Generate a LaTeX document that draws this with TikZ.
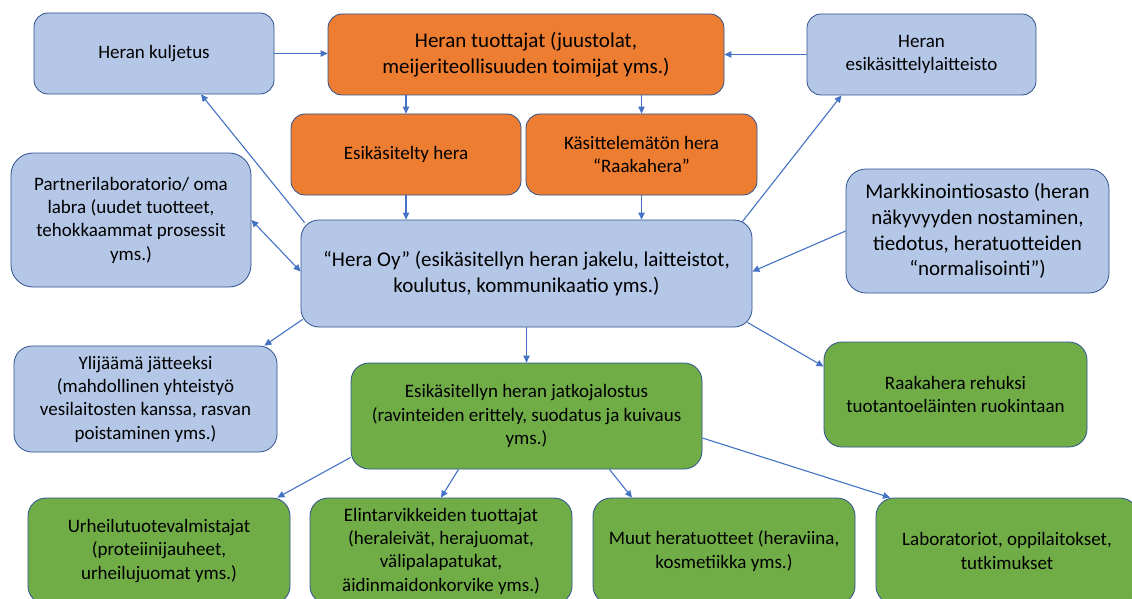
\documentclass[tikz,border=0pt]{standalone}
\usepackage{fontspec}
\setmainfont{Carlito}
\usetikzlibrary{arrows.meta}
\definecolor{heraBlue}{RGB}{180, 199, 231}
\definecolor{heraOrange}{RGB}{237, 125, 49}
\definecolor{heraGreen}{RGB}{112, 173, 71}
\definecolor{heraEdge}{RGB}{47, 82, 143}
\definecolor{heraArrow}{RGB}{68, 114, 196}

\begin{document}
\begin{tikzpicture}[x=1pt, y=-1pt,
    box/.style={draw=heraEdge, line width=0.8pt, rounded corners=14pt, align=center,
      inner sep=2pt, font=\fontsize{19}{23.3}\selectfont},
    boxsize/.style 2 args={minimum width=#1pt, minimum height=#2pt},
    bluebox/.style={box, fill=heraBlue},
    orangebox/.style={box, fill=heraOrange},
    greenbox/.style={box, fill=heraGreen},
    bigtext/.style={font=\fontsize{21}{25.6}\selectfont},
    tip/.tip={Triangle[length=7pt, width=6.5pt]},
    flow/.style={draw=heraArrow, line width=1.1pt, -tip}]
  \useasboundingbox[fill=white] (0,0) rectangle (1132,599);
  % top row
  \node[bluebox, boxsize={240}{81}] (kuljetus) at (154,53.5) {Heran kuljetus};
  \node[orangebox, bigtext, boxsize={396}{81}] (tuottajat) at (526,54.5)
    {Heran tuottajat (juustolat,\\meijeriteollisuuden toimijat yms.)};
  \node[bluebox, boxsize={229}{81}] (laitteisto) at (921.5,54.5) {Heran\\esikäsittelylaitteisto};
  \node[orangebox, boxsize={230}{81}] (esik) at (406,154.5) {Esikäsitelty hera};
  \node[orangebox, boxsize={231}{81}] (raaka) at (641.5,154.5) {Käsittelemätön hera\\“Raakahera”};
  % middle
  \node[bluebox, boxsize={240}{134}, rounded corners=22pt] (partneri) at (131,220)
    {Partnerilaboratorio/ oma\\labra (uudet tuotteet,\\tehokkaammat prosessit\\yms.)};
  \node[bluebox, bigtext, boxsize={451}{107}, rounded corners=18pt] (heraoy) at (526.5,273.5)
    {“Hera Oy” (esikäsitellyn heran jakelu, laitteistot,\\koulutus, kommunikaatio yms.)};
  \node[bluebox, bigtext, boxsize={263}{124}, rounded corners=20pt] (markkinointi) at (977.5,231)
    {Markkinointiosasto (heran\\näkyvyyden nostaminen,\\tiedotus, heratuotteiden\\“normalisointi”)};
  \node[bluebox, boxsize={263}{106}, rounded corners=18pt] (ylijaama) at (145.5,399)
    {Ylijäämä jätteeksi\\(mahdollinen yhteistyö\\vesilaitosten kanssa, rasvan\\poistaminen yms.)};
  \node[greenbox, boxsize={351}{106}, rounded corners=18pt] (jatko) at (526.5,416)
    {Esikäsitellyn heran jatkojalostus\\(ravinteiden erittely, suodatus ja kuivaus\\yms.)};
  \node[greenbox, boxsize={263}{105}, rounded corners=18pt] (rehu) at (955.5,394.5)
    {Raakahera rehuksi\\tuotantoeläinten ruokintaan};
  % bottom row
  \node[greenbox, boxsize={262}{106}, rounded corners=18pt] (urheilu) at (159,551)
    {Urheilutuotevalmistajat\\(proteiinijauheet,\\urheilujuomat yms.)};
  \node[greenbox, boxsize={262}{106}, rounded corners=18pt] (elintarvike) at (441,551)
    {Elintarvikkeiden tuottajat\\(heraleivät, herajuomat,\\välipalapatukat,\\äidinmaidonkorvike yms.)};
  \node[greenbox, boxsize={262}{106}, rounded corners=18pt] (muut) at (724,551)
    {Muut heratuotteet (heraviina,\\kosmetiikka yms.)};
  \node[greenbox, boxsize={262}{106}, rounded corners=18pt] (lab) at (1007,551)
    {Laboratoriot, oppilaitokset,\\tutkimukset};
  % arrows
  \draw[flow] (kuljetus.east) -- (kuljetus.east -| tuottajat.west);
  \draw[flow] (laitteisto.west) -- (laitteisto.west -| tuottajat.east);
  \draw[flow] (tuottajat.south -| esik.north) -- (esik.north);
  \draw[flow] (tuottajat.south -| raaka.north) -- (raaka.north);
  \draw[flow] (esik.south) -- (esik.south |- heraoy.north);
  \draw[flow] (raaka.south) -- (raaka.south |- heraoy.north);
  \draw[flow] ([xshift=4pt, yshift=-3pt]heraoy.north west) -- ([xshift=47pt]kuljetus.south);
  \draw[flow, tip-tip] (partneri.east) -- ([yshift=2pt]heraoy.west);
  \draw[flow] ([xshift=-10pt, yshift=-2pt]heraoy.north east) -- ([xshift=-80pt]laitteisto.south);
  \draw[flow] (markkinointi.west) -- ([yshift=2pt]heraoy.east);
  \draw[flow] ([xshift=2pt, yshift=8pt]heraoy.south west) -- ([xshift=-13pt]ylijaama.north east);
  \draw[flow] (heraoy.south) -- (jatko.north);
  \draw[flow] ([xshift=-5pt, yshift=5pt]heraoy.south east) -- ([yshift=28pt]rehu.west);
  \draw[flow] ([yshift=12pt]jatko.south west) -- ([xshift=-13pt]urheilu.north east);
  \draw[flow] ([xshift=-68pt]jatko.south) -- (elintarvike.north);
  \draw[flow] ([xshift=83pt]jatko.south) -- ([xshift=-92pt]muut.north);
  \draw[flow] ([yshift=-22pt]jatko.east) -- ([xshift=-117pt]lab.north);
\end{tikzpicture}
\end{document}
